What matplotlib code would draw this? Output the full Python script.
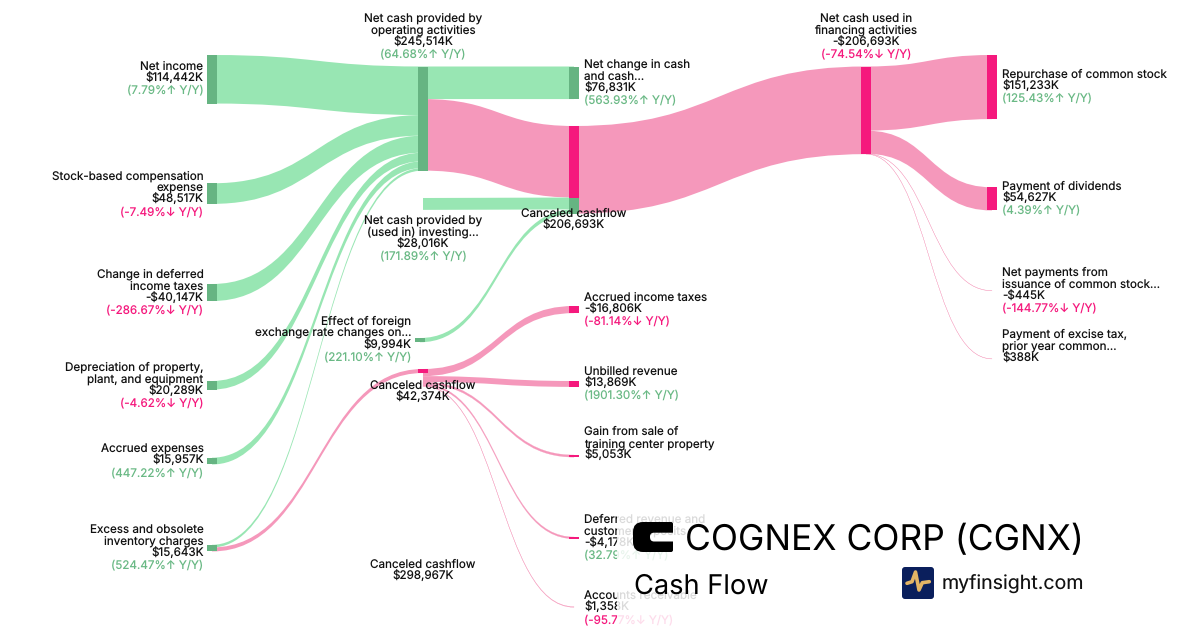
#!/usr/bin/env python3
"""Cash flow sankey for Cognex, laid out on a 1200x630 pixel canvas."""

import matplotlib

matplotlib.use("Agg")
import matplotlib.pyplot as plt
from matplotlib.patches import FancyBboxPatch, PathPatch, Rectangle
from matplotlib.path import Path

plt.rcParams["font.family"] = ["Inter", "DejaVu Sans"]
plt.rcParams["text.hinting"] = "no_hinting"

# data
node_names = [
    "Net income",
    "Stock-based compensation\nexpense",
    "Change in deferred\nincome taxes",
    "Depreciation of property,\nplant, and equipment",
    "Accrued expenses",
    "Excess and obsolete\ninventory charges",
    "Net cash provided by\noperating activities",
    "Net cash provided by\n(used in) investing...",
    "Effect of foreign\nexchange rate changes on...",
    "Canceled cashflow",
    "Canceled cashflow",
    "Net change in cash\nand cash...",
    "Canceled cashflow",
    "Accrued income taxes",
    "Unbilled revenue",
    "Gain from sale of\ntraining center property",
    "Deferred revenue and\ncustomer deposits",
    "Accounts receivable",
    "Net cash used in\nfinancing activities",
    "Repurchase of common stock",
    "Payment of dividends",
    "Net payments from\nissuance of common stock...",
    "Payment of excise tax,\nprior year common...",
]
node_values = [
    114442, 48517, -40147, 20289, 15957, 15643, 245514, 28016, 9994, 42374,
    298967, 76831, 206693, -16806, 13869, 5053, -4178, 1358, -206693, 151233,
    54627, -445, 388,
]
node_yoy = [
    7.79, -7.49, -286.67, -4.62, 447.22, 524.47, 64.68, 171.89, 221.10, None,
    None, 563.93, None, -81.14, 1901.30, None, 32.79, -95.77, -74.54, 125.43,
    4.39, -144.77, None,
]
link_source = [0, 1, 2, 3, 4, 5, 6, 6, 7, 8, 12, 18, 18, 18, 18, 5, 9, 9, 9, 9, 9]
link_target = [6, 6, 6, 6, 6, 6, 11, 12, 12, 12, 18, 19, 20, 21, 22, 9, 13, 14, 15, 16, 17]
link_value = [
    114442, 48517, 40147, 20289, 15957, 6162, 76831, 168683, 28016, 9994,
    206693, 151233, 54627, 445, 388, 9481, 16806, 13869, 5053, 4178, 1358,
]

# layout, in canvas pixels
PX_PER_K = 0.000424
NODE_W = 10
node_x = [212, 212, 212, 212, 212, 212, 423, 423, 420, 423, 423,
          574, 574, 574, 574, 574, 574, 574, 866, 992, 992, 992, 992]
node_top = [55, 183.3, 284, 381, 457.7, 544.8, 66.5, 198, 338, 369, 560,
            66.5, 126, 306, 381, 455, 537, 606.7, 66.5, 55, 187.3, 290.6, 358.8]
node_drawn = [True] * 23
node_drawn[7] = node_drawn[10] = False
# (x, align, y of first line)
label_pos = [
    (203.5, "right", 65.7), (203.5, "right", 175), (203.5, "right", 273.7),
    (203.5, "right", 366.7), (203.5, "right", 448), (203.5, "right", 528.7),
    (423, "center", 17.6), (423, "center", 219.7), (411.5, "right", 320.7),
    (423, "center", 384.3), (423, "center", 563.7), (584, "left", 63.7),
    (574, "center", 212.7), (584, "left", 296.7), (584, "left", 370.7),
    (584, "left", 431), (584, "left", 518.7), (584, "left", 595),
    (866, "center", 17.6), (1002, "left", 73.5), (1002, "left", 185.7),
    (1002, "left", 271.7), (1002, "left", 333.7),
]
LINE_H = 12
LABEL_SIZE = 8.4
BASELINE_OFFSET = 4.2

link_green = [True] * 7 + [False, True, True] + [False] * 11
GREEN_LINK = "#98e6b3"
GREEN_NODE = "#66b482"
PINK_LINK = "#f598bb"
PINK_NODE = "#f5197d"
GREEN_TEXT = "#6ab985"
INK = "#111111"


def link_patch(x0, y0, x1, y1, h, color):
    """Filled band between two horizontal-tangent beziers of constant height."""
    mid = (x0 + x1) / 2
    verts = [(x0, y0), (mid, y0), (mid, y1), (x1, y1),
             (x1, y1 + h), (mid, y1 + h), (mid, y0 + h), (x0, y0 + h), (x0, y0)]
    codes = [Path.MOVETO, Path.CURVE4, Path.CURVE4, Path.CURVE4,
             Path.LINETO, Path.CURVE4, Path.CURVE4, Path.CURVE4, Path.CLOSEPOLY]
    # very thin bands would vanish under antialiasing, give them a hairline
    lw = 0.18 if h < 2.5 else 0
    return PathPatch(Path(verts, codes), facecolor=color, edgecolor=color, lw=lw, zorder=2)


def main():
    fig = plt.figure(figsize=(12, 6.3), dpi=100)
    ax = fig.add_axes([0, 0, 1, 1])
    ax.set_xlim(0, 1200)
    ax.set_ylim(630, 0)
    ax.axis("off")

    out_y = list(node_top)
    in_y = list(node_top)
    has_input = set(link_target)
    for i, val in enumerate(link_value):
        s, t = link_source[i], link_target[i]
        h = val * PX_PER_K
        green = link_green[i]
        ax.add_patch(link_patch(node_x[s], out_y[s], node_x[t], in_y[t], h,
                                GREEN_LINK if green else PINK_LINK))
        # node pieces follow what flows in; pure source nodes are drawn further down
        if node_drawn[t]:
            ax.add_patch(Rectangle((node_x[t] - NODE_W / 2, in_y[t]), NODE_W, h,
                                   facecolor=GREEN_NODE if green else PINK_NODE,
                                   edgecolor="none", zorder=3))
        out_y[s] += h
        in_y[t] += h

    for n in range(len(node_names)):
        if n not in has_input and node_drawn[n]:
            ax.add_patch(Rectangle((node_x[n] - NODE_W / 2, node_top[n]), NODE_W,
                                   abs(node_values[n]) * PX_PER_K,
                                   facecolor=GREEN_NODE, edgecolor="none", zorder=3))

    for n, name in enumerate(node_names):
        x, ha, y = label_pos[n]
        y += BASELINE_OFFSET
        val = node_values[n]
        lines = name.split("\n") + [f"{'-' if val < 0 else ''}${abs(val):,}K"]
        for k, line in enumerate(lines):
            ax.text(x, y + k * LINE_H, line, ha=ha, va="baseline",
                    fontsize=LABEL_SIZE, color=INK, zorder=4)
        yoy = node_yoy[n]
        if yoy is not None:
            arrow = "↑" if yoy >= 0 else "↓"
            ax.text(x, y + len(lines) * LINE_H, f"({yoy:.2f}%{arrow} Y/Y)", ha=ha,
                    va="baseline", fontsize=LABEL_SIZE,
                    color=GREEN_TEXT if yoy >= 0 else PINK_NODE, zorder=4)

    # header panel, faintly shows the labels below it
    ax.add_patch(Rectangle((617, 500), 583, 130, facecolor="white", alpha=0.85,
                           edgecolor="none", zorder=5))

    # company mark
    c_verts = [(671, 522), (643, 522), (633, 522), (633, 532), (633, 542), (633, 552),
               (643, 552), (671, 552), (673, 552), (673, 550), (673, 541.5), (654, 541.5),
               (650, 541.5), (650, 537), (650, 536.5), (650, 532.7), (654, 532.7),
               (673, 532.7), (673, 524), (673, 522), (671, 522)]
    c_codes = [Path.MOVETO, Path.LINETO, Path.CURVE3, Path.CURVE3, Path.LINETO,
               Path.CURVE3, Path.CURVE3, Path.LINETO, Path.CURVE3, Path.CURVE3,
               Path.LINETO, Path.LINETO, Path.CURVE3, Path.CURVE3, Path.LINETO,
               Path.CURVE3, Path.CURVE3, Path.LINETO, Path.LINETO, Path.CURVE3,
               Path.CURVE3]
    ax.add_patch(PathPatch(Path(c_verts, c_codes), facecolor="black", edgecolor="none", zorder=6))

    ax.text(685, 550, "COGNEX CORP (CGNX)", fontsize=25.5, color="black",
            va="baseline", zorder=6)
    ax.text(634, 594, "Cash Flow", fontsize=19.6, color="black", va="baseline", zorder=6)
    ax.text(942, 590, "myfinsight.com", fontsize=14.1, color="#111111",
            va="baseline", zorder=6)

    ax.add_patch(FancyBboxPatch((904, 569), 28, 28, boxstyle="round,pad=2,rounding_size=3",
                                facecolor="#0a1f5c", edgecolor="none", zorder=6))
    ax.plot([907, 912, 915.5, 919, 922.3, 929.3], [583.3, 581.7, 572, 590, 582.7, 581.7],
            color="#e3b565", lw=2.6, solid_capstyle="round", solid_joinstyle="round", zorder=7)

    fig.savefig("out.png", dpi=100)


if __name__ == "__main__":
    main()
